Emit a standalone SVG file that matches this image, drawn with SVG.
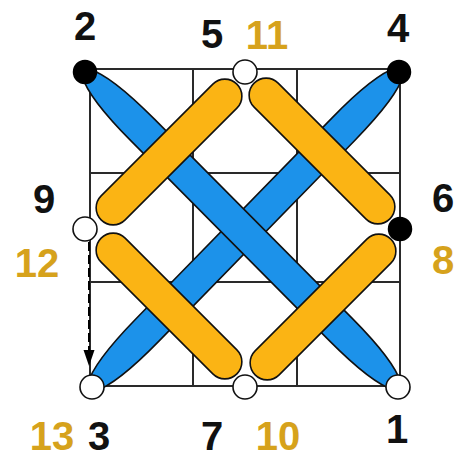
<svg xmlns="http://www.w3.org/2000/svg" width="454" height="457" viewBox="0 0 454 457">
<style>
.grid{stroke:#2a2a2a;stroke-width:2;fill:none}
.blue{fill:#1C92EA;stroke:#111;stroke-width:1.6}
.gold{fill:#FBB414;stroke:#111;stroke-width:1.6}
.dotB{fill:#000;stroke:#000;stroke-width:1.5}
.dotW{fill:#fff;stroke:#111;stroke-width:1.6}
text{font-family:"Liberation Sans",Arial,sans-serif;font-weight:bold;font-size:40px;text-anchor:middle}
.k{fill:#111}
.g{fill:#D6A21C}
</style>
<defs>
<path id="leaf" d="M -221,-5 C -205,-14 -175,-16 -140,-16 L 140,-16 C 175,-16 205,-14 221,-5 Q 226,0 221,5 C 205,14 175,16 140,16 L -140,16 C -175,16 -205,14 -221,5 Q -226,0 -221,-5 Z"/>
<rect id="cap" x="-96" y="-17" width="192" height="34" rx="17" ry="17"/>
<marker id="ah" viewBox="0 0 10 14" refX="7" refY="7" markerWidth="10" markerHeight="14" markerUnits="userSpaceOnUse" orient="auto">
<path d="M0,0 L14,7 L0,14 Z" fill="#000" transform="scale(0.72,1)"/>
</marker>
</defs>
<g id="grid" class="grid">
<rect x="90" y="69" width="310" height="317"/>
<line x1="193" y1="69" x2="193" y2="386"/>
<line x1="297" y1="69" x2="297" y2="386"/>
<line x1="90" y1="173" x2="400" y2="173"/>
<line x1="90" y1="282" x2="400" y2="282"/>
</g>
<g id="connectors">
<use href="#leaf" class="blue" transform="translate(245.5,229.5) rotate(-45.7)"/>
<use href="#leaf" class="blue" transform="translate(241.5,229.5) rotate(45.2)"/>
<use href="#cap" class="gold" transform="translate(169,152) rotate(-45)"/>
<use href="#cap" class="gold" transform="translate(322,151) rotate(45)"/>
<use href="#cap" class="gold" transform="translate(169,306) rotate(45)"/>
<use href="#cap" class="gold" transform="translate(323,307) rotate(-45)"/>
<line x1="89" y1="242" x2="89" y2="358" stroke="#000" stroke-width="2" stroke-dasharray="9,4"/>
<path d="M83.5,350 L94.5,350 L89,366 Z" fill="#000"/>
</g>
<g id="n2"><circle class="dotB" cx="85" cy="72" r="11.5"/><text class="k" x="85" y="40">2</text></g>
<g id="n5-11"><circle class="dotW" cx="245" cy="72" r="12"/><text class="k" x="212" y="48">5</text><text class="g" x="267" y="49">11</text></g>
<g id="n4"><circle class="dotB" cx="399" cy="72" r="11.5"/><text class="k" x="398" y="42">4</text></g>
<g id="n9-12"><circle class="dotW" cx="85" cy="229" r="12"/><text class="k" x="44" y="213">9</text><text class="g" x="37" y="277">12</text></g>
<g id="n6-8"><circle class="dotB" cx="400" cy="229" r="11.5"/><text class="k" x="443" y="212">6</text><text class="g" x="443" y="274">8</text></g>
<g id="n3-13"><circle class="dotW" cx="92" cy="387" r="12"/><text class="k" x="99" y="450">3</text><text class="g" x="52" y="450">13</text></g>
<g id="n7-10"><circle class="dotW" cx="245" cy="387" r="12"/><text class="k" x="212" y="450">7</text><text class="g" x="278" y="450">10</text></g>
<g id="n1"><circle class="dotW" cx="398" cy="387" r="12"/><text class="k" x="397" y="443">1</text></g>
</svg>
